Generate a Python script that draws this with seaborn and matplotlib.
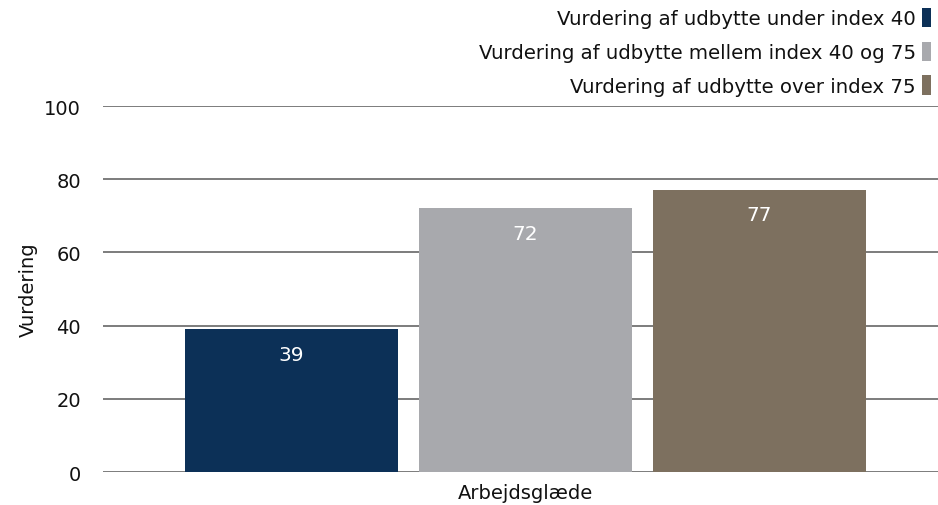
import matplotlib
matplotlib.use("Agg")
import matplotlib.pyplot as plt
import seaborn as sns
import pandas as pd
from matplotlib.patches import Rectangle

# Data
category = ["Arbejdsglæde"]
series = [
    "Vurdering af udbytte under index 40",
    "Vurdering af udbytte mellem index 40 og 75",
    "Vurdering af udbytte over index 75",
]
values = [39, 72, 77]
colors = ["#0c3057", "#a8a9ad", "#7d705f"]
y_ticks = [0, 20, 40, 60, 80, 100]

df = pd.DataFrame({
    "Kategori": category * len(series),
    "Serie": series,
    "Vurdering": values,
})

sns.set_theme(style="white")
plt.rcParams["font.family"] = ["DejaVu Sans"]

fig = plt.figure(figsize=(9.38, 5.06), dpi=100)
ax = fig.add_axes([0.1098, 0.0652, 0.8902, 0.7233])

sns.barplot(
    data=df, x="Kategori", y="Vurdering", hue="Serie",
    palette=colors, hue_order=series, width=0.8, gap=0.09,
    saturation=1, ax=ax, legend=False, zorder=3,
    linewidth=0, edgecolor="none",
)

ax.set_ylim(0, 100)
ax.set_xlim(-0.4815, 0.470)
ax.set_yticks(y_ticks)
ax.set_yticklabels([str(t) for t in y_ticks], fontsize=14, color="#111111")
ax.tick_params(axis="y", length=0, pad=16)
ax.tick_params(axis="x", length=0, labelsize=14, labelcolor="#111111", pad=8)
ax.yaxis.grid(True, color="#666666", linewidth=1.2, zorder=0)
ax.xaxis.grid(False)
for s in ax.spines.values():
    s.set_visible(False)
ax.set_xlabel("")
ax.set_ylabel("Vurdering", fontsize=14, color="#111111", labelpad=4)

# Value labels inside the top of each bar
for patch, v in zip(ax.patches, values):
    ax.annotate(
        f"{v}",
        xy=(patch.get_x() + patch.get_width() / 2, v),
        xytext=(0, -11), textcoords="offset points",
        ha="center", va="top", color="white", fontsize=14.5,
        family=["Liberation Sans Narrow", "DejaVu Sans"],
    )

handles = [Rectangle((0, 0), 1, 1, facecolor=c, edgecolor="none") for c in colors]
fig.legend(
    handles, series, loc="upper right", bbox_to_anchor=(1.011, 1.018),
    frameon=False, markerfirst=False, fontsize=14.2,
    handlelength=0.45, handleheight=1.15, handletextpad=0.3,
    labelspacing=0.68, alignment="right", labelcolor="#111111",
)

fig.savefig("out.png", dpi=100)
